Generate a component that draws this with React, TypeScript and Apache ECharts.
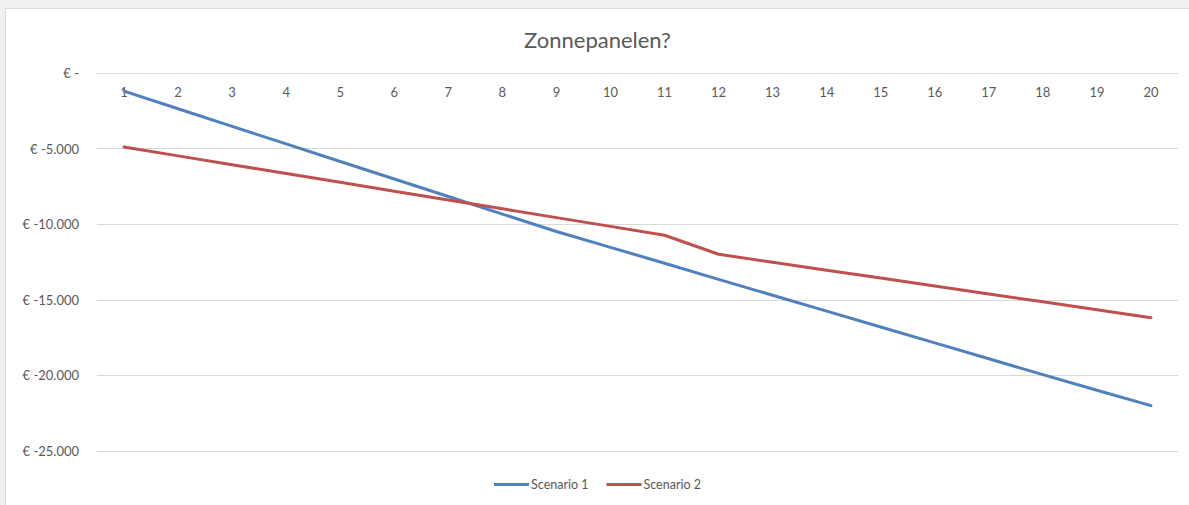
import React, { useEffect, useRef } from "react";
import * as echarts from "echarts";

const categories = ["1","2","3","4","5","6","7","8","9","10","11","12","13","14","15","16","17","18","19","20"];
const scenario1 = [-1200, -2365, -3530, -4690, -5850, -7010, -8170, -9330, -10480, -11530, -12580, -13650, -14700, -15750, -16800, -17850, -18900, -19950, -20980, -22000];
const scenario2 = [-4900, -5480, -6065, -6650, -7230, -7815, -8400, -8980, -9565, -10145, -10730, -11990, -12515, -13040, -13560, -14085, -14610, -15135, -15655, -16180];
const seriesNames = ["Scenario 1", "Scenario 2"];
const titleText = "Zonnepanelen?";

const FONT = "Lato, 'Liberation Sans', sans-serif";

function fmt(v: number): string {
  if (v === 0) return "€ -";
  const abs = Math.abs(v);
  const s = abs.toString().replace(/\B(?=(\d{3})+(?!\d))/g, ".");
  return "€ " + (v < 0 ? "-" : "") + s;
}

export default function App() {
  const ref = useRef<HTMLDivElement>(null);
  useEffect(() => {
    if (!ref.current) return;
    const chart = echarts.init(ref.current, undefined, { renderer: "svg" });
    chart.setOption({
      animation: false,
      backgroundColor: "#ffffff",
      title: {
        text: titleText,
        left: "center",
        top: 14,
        textStyle: { fontFamily: FONT, fontSize: 22, fontWeight: "normal", color: "#595959" },
      },
      legend: {
        bottom: 9,
        left: "center",
        icon: "rect",
        itemWidth: 35,
        itemHeight: 3,
        itemGap: 18,
        textStyle: { fontFamily: FONT, fontSize: 12.5, color: "#595959", padding: [0, 0, 0, -3] },
        data: seriesNames,
      },
      grid: { left: 91, right: 11, top: 64, bottom: 54, containLabel: false },
      xAxis: {
        type: "category",
        position: "top",
        data: categories,
        boundaryGap: true,
        axisLine: { show: true, onZero: false, lineStyle: { color: "#d9d9d9", width: 1 } },
        axisTick: { show: false },
        axisLabel: { inside: true, fontFamily: FONT, fontSize: 13, color: "#595959", margin: 12, interval: 0 },
      },
      yAxis: {
        type: "value",
        min: -25000,
        max: 0,
        interval: 5000,
        axisLine: { show: false },
        axisTick: { show: false },
        splitLine: { lineStyle: { color: "#d9d9d9", width: 1 } },
        axisLabel: { fontFamily: FONT, fontSize: 13, color: "#595959", margin: 18, formatter: fmt },
      },
      series: [
        {
          name: seriesNames[0],
          type: "line",
          data: scenario1,
          showSymbol: false,
          symbol: "none",
          lineStyle: { color: "#4f81bd", width: 3, cap: "round" },
          itemStyle: { color: "#4f81bd" },
        },
        {
          name: seriesNames[1],
          type: "line",
          data: scenario2,
          showSymbol: false,
          symbol: "none",
          lineStyle: { color: "#c0504d", width: 3, cap: "round" },
          itemStyle: { color: "#c0504d" },
        },
      ],
    });
    return () => chart.dispose();
  }, []);
  return (
    <div style={{ position: "absolute", left: 0, top: 0, width: 1189, height: 505, background: "#f0f0f0", overflow: "hidden" }}>
      <div
        style={{
          position: "absolute",
          left: 5,
          top: 8,
          width: 1184,
          height: 497,
          border: "1px solid #d9d9d9",
          borderRight: "none",
          borderBottom: "none",
          boxSizing: "border-box",
          background: "#fff",
        }}
      >
        <div ref={ref} style={{ position: "absolute", left: 0, top: 0, width: 1183, height: 496 }} />
      </div>
    </div>
  );
}
